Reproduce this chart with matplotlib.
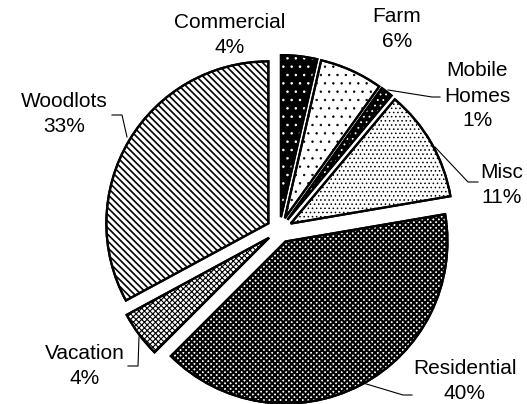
import matplotlib
matplotlib.use("Agg")
import matplotlib.pyplot as plt
from matplotlib.patches import Wedge

plt.rcParams['font.family'] = ['Liberation Sans', 'DejaVu Sans']

# Land use shares, clockwise from 12 o'clock
categories = ["Commercial", "Farm", "Mobile\nHomes", "Misc", "Residential", "Vacation", "Woodlots"]
shares = [3.6, 6.3, 1.2, 11.2, 40.2, 4.6, 32.9]
pct_labels = ["4%", "6%", "1%", "11%", "40%", "4%", "33%"]

# fill patterns (face, hatch, hatch colour, hatch linewidth)
styles = [
    ("black", "..", "white", 0.6),
    ("white", "..", "black", 0.5),
    ("black", "...", "white", 0.6),
    ("white", "....", "black", 0.6),
    ("white", "xxxxxx", "black", 1.5),
    ("white", "xxxxxx", "black", 0.8),
    ("white", "\\\\\\\\\\", "black", 1.2),
]

# label block centres and leader lines, in pixels of the 527x404 picture
label_pos = [(230, 35), (397, 29), (477, 96), (502, 185), (465, 381), (85, 366), (64, 114)]
leaders = [None, None,
           [(388, 90), (432, 97), (440, 97)],
           [(435, 147), (468, 182), (478, 182)],
           [(363, 383), (403, 395), (412, 395)],
           [(139, 337), (138, 366), (128, 366)],
           [(127, 137), (122, 115), (112, 115)]]

W, H = 527, 404
fig = plt.figure(figsize=(W / 100, H / 100), dpi=100)
ax = fig.add_axes([0, 0, 1, 1])

cx, cy, R = 279.5, 230, 162  # pie centre / radius in pixels
wedges, _ = ax.pie(shares, startangle=90, counterclock=False, explode=[0.08] * len(shares),
                   radius=1, wedgeprops=dict(linewidth=1.6, edgecolor="black"))
ax.set_xlim(-cx / R, (W - cx) / R)
ax.set_ylim(-(H - cy) / R, cy / R)
ax.set_aspect("auto")
ax.axis("off")

for w, (fc, hatch, hc, hlw) in zip(wedges, styles):
    w.set_facecolor(fc)
    over = Wedge(w.center, w.r, w.theta1, w.theta2, facecolor="none", edgecolor=hc,
                 linewidth=0, hatch=hatch, zorder=w.get_zorder() + 0.1)
    if hasattr(over, "set_hatch_linewidth"):
        over.set_hatch_linewidth(hlw)
    ax.add_patch(over)
    outline = Wedge(w.center, w.r, w.theta1, w.theta2, facecolor="none", edgecolor="black",
                    linewidth=1.6, zorder=w.get_zorder() + 0.2)
    ax.add_patch(outline)

for name, pct, (px, py) in zip(categories, pct_labels, label_pos):
    ax.text(px / W, 1 - py / H, name + "\n" + pct, transform=ax.transAxes,
            ha="center", va="center", fontsize=15, linespacing=1.4)

for ld in leaders:
    if ld is None:
        continue
    xs = [p[0] / W for p in ld]
    ys = [1 - p[1] / H for p in ld]
    ax.plot(xs, ys, color="black", linewidth=0.8, transform=ax.transAxes)

fig.savefig("out.png", dpi=100)
